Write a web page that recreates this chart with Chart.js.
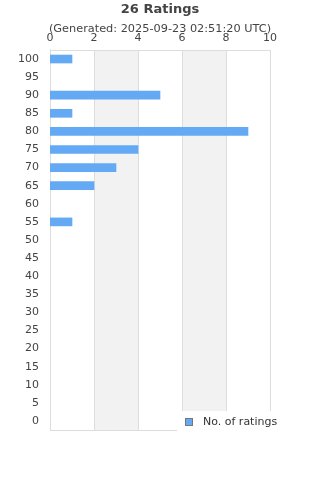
<!DOCTYPE html>
<html>
<head>
<meta charset="utf-8">
<script src="https://cdn.jsdelivr.net/npm/chart.js@4/dist/chart.umd.min.js"></script>
<style>
  html, body { margin: 0; padding: 0; background: #fff; }
  #wrap { width: 320px; height: 480px; }
</style>
</head>
<body>
<div id="wrap"><canvas id="ratingsChart" width="320" height="480"></canvas></div>
<script>
const scores = ["100", "95", "90", "85", "80", "75", "70", "65", "60", "55", "50",
  "45", "40", "35", "30", "25", "20", "15", "10", "5", "0"];
const ratingCounts = [1, 0, 5, 1, 9, 4, 3, 2, 0, 1, 0, 0, 0, 0, 0, 0, 0, 0, 0, 0, 0];
const countTicks = [0, 2, 4, 6, 8, 10];
const bands = [[2, 4], [6, 8]];

const barColor = "#63a9f4";
const gridColor = "#dddddd";
const textColor = "#444444";

// grey bands behind the bars and a box round the plot
const bandsPlugin = {
  id: "bands",
  beforeDatasetsDraw(chart) {
    const { ctx, chartArea: a, scales: { x } } = chart;
    ctx.save();
    ctx.fillStyle = "#f2f2f2";
    bands.forEach(([from, to]) => {
      const x0 = x.getPixelForValue(from);
      const x1 = x.getPixelForValue(to);
      ctx.fillRect(x0, a.top, x1 - x0, a.bottom - a.top);
    });
    ctx.strokeStyle = gridColor;
    ctx.lineWidth = 1;
    ctx.beginPath();
    countTicks.forEach(v => {
      const px = Math.round(x.getPixelForValue(v)) + 0.5;
      ctx.moveTo(px, a.top);
      ctx.lineTo(px, a.bottom);
    });
    ctx.moveTo(a.left, Math.round(a.top) + 0.5);
    ctx.lineTo(a.right, Math.round(a.top) + 0.5);
    ctx.moveTo(a.left, Math.round(a.bottom) + 0.5);
    ctx.lineTo(a.right, Math.round(a.bottom) + 0.5);
    ctx.stroke();
    ctx.restore();
  }
};

// legend sitting over the bottom right corner of the plot
const cornerLegend = {
  id: "cornerLegend",
  afterDraw(chart) {
    const { ctx, chartArea: a } = chart;
    const ds = chart.data.datasets[0];
    ctx.save();
    ctx.fillStyle = "#ffffff";
    ctx.fillRect(177, a.bottom - 19, 320 - 177, 22);
    ctx.fillStyle = barColor;
    ctx.fillRect(185.5, a.bottom - 11.5, 7, 7);
    ctx.strokeStyle = "#777777";
    ctx.lineWidth = 1;
    ctx.strokeRect(185.5, a.bottom - 11.5, 7, 7);
    ctx.fillStyle = "#333333";
    ctx.font = "11px 'DejaVu Sans'";
    ctx.textBaseline = "middle";
    ctx.textAlign = "left";
    ctx.fillText(ds.label, 203, a.bottom - 8);
    ctx.restore();
  }
};

Chart.defaults.font.family = "'DejaVu Sans', sans-serif";
Chart.defaults.color = textColor;

new Chart(document.getElementById("ratingsChart"), {
  type: "bar",
  data: {
    labels: scores,
    datasets: [{
      label: "No. of ratings",
      data: ratingCounts,
      xAxisID: "x",
      yAxisID: "y",
      backgroundColor: c => (c.raw ? barColor : "rgba(0,0,0,0)"),
      barThickness: 8
    }]
  },
  options: {
    indexAxis: "y",
    responsive: false,
    animation: false,
    layout: { padding: { top: 0, right: 0, bottom: 50, left: 0 } },
    plugins: {
      legend: { display: false },
      tooltip: { enabled: false },
      title: {
        display: true,
        text: "26 Ratings",
        color: textColor,
        font: { size: 13, weight: "bold" },
        padding: { top: 2, bottom: 4 }
      },
      subtitle: {
        display: true,
        text: "(Generated: 2025-09-23 02:51:20 UTC)",
        color: textColor,
        font: { size: 11.3 },
        padding: { top: 1, bottom: -6 }
      }
    },
    scales: {
      x: {
        type: "linear",
        position: "top",
        min: 0,
        max: 10,
        afterFit: axis => { axis.height = 19.8; },
        grid: { display: false, drawTicks: false, tickLength: 0 },
        border: { display: false },
        ticks: { stepSize: 2, padding: 5, font: { size: 11 }, color: textColor, maxRotation: 0 }
      },
      y: {
        type: "category",
        afterFit: axis => { axis.width = 50; },
        grid: { display: false, drawTicks: false, tickLength: 0 },
        border: { display: true, color: gridColor },
        ticks: { padding: 11, font: { size: 11 }, color: textColor, autoSkip: false }
      },
      spacer: {
        type: "linear",
        axis: "y",
        position: "right",
        afterFit: axis => { axis.width = 50; },
        grid: { display: false },
        border: { display: false },
        ticks: { display: false }
      }
    }
  },
  plugins: [bandsPlugin, cornerLegend]
});
</script>
</body>
</html>
